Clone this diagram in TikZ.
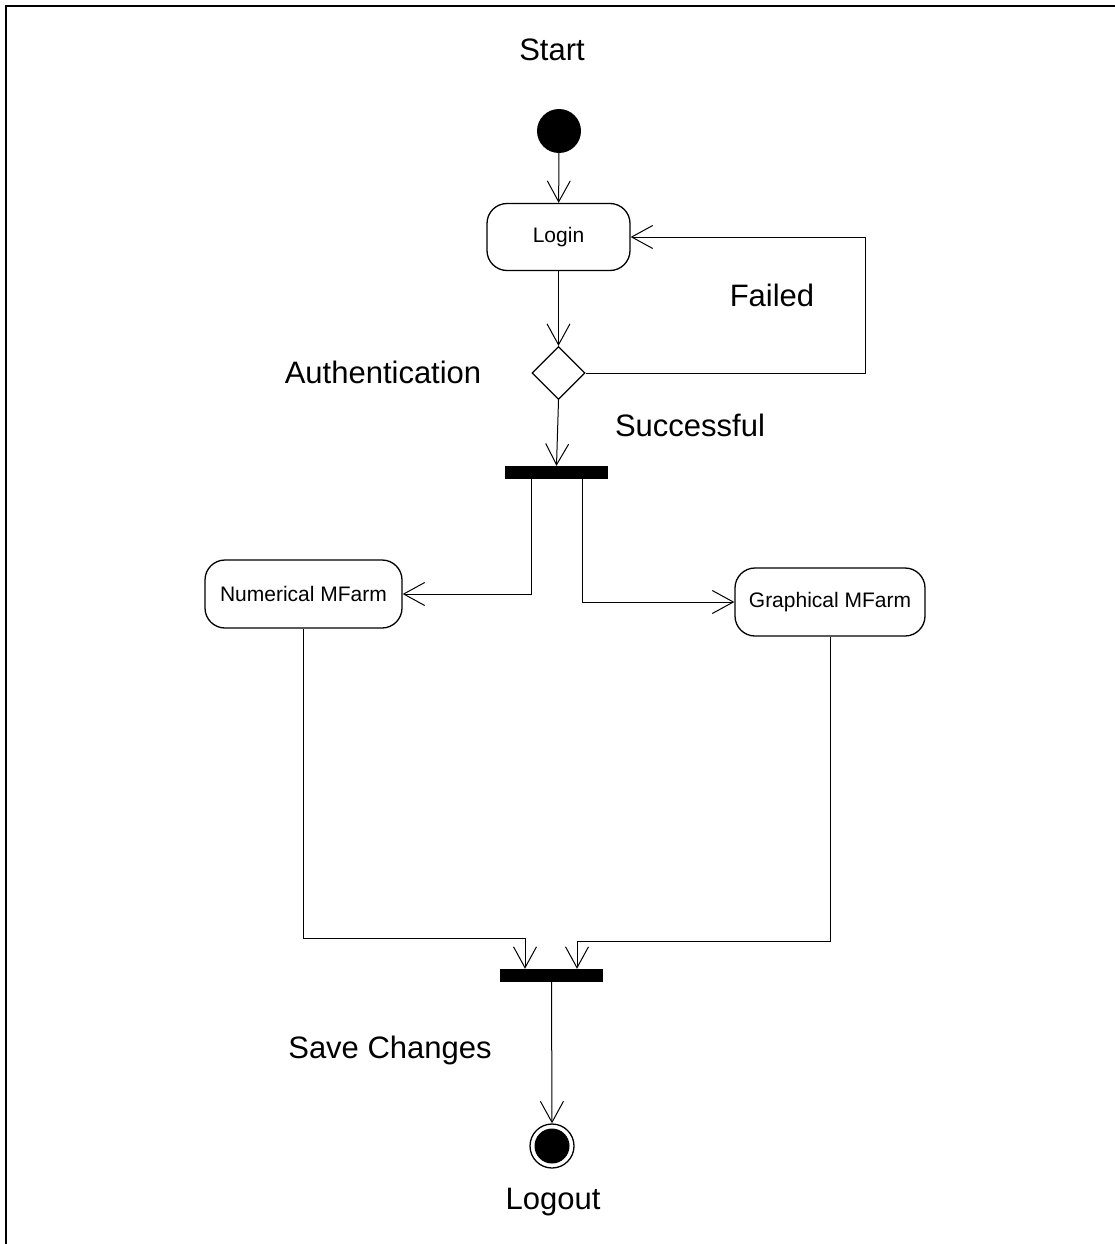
\documentclass[tikz,border=0pt]{standalone}
\usepackage{fontspec}
\setmainfont{Liberation Sans}
\usetikzlibrary{arrows.meta,shapes.geometric}
\begin{document}
\begin{tikzpicture}[x=1pt,y=-1pt,
  flow/.style={line width=1pt,-{Straight Barb[length=21pt,width=23pt,line width=1pt]}},
  activity/.style={draw,line width=1.3pt,rounded corners=20pt,inner sep=0pt,
    font=\fontsize{21}{25}\selectfont},
  bigtext/.style={inner sep=0pt,font=\fontsize{31}{36}\selectfont},
  bar/.style={fill=black,inner sep=0pt,minimum width=103pt,minimum height=13pt},
]
\useasboundingbox (0,0) rectangle (1115,1244);
\fill[white] (0,0) rectangle (1115,1244);
% frame
\draw[line width=2pt] (6,1244) -- (6,6) -- (1115,6);

% initial node
\node[bigtext] (startlbl) at (552,50) {Start};
\node[circle,fill=black,inner sep=0pt,minimum size=44pt] (init) at (559,131) {};

% login and decision
\node[activity,minimum width=143pt,minimum height=67pt] (login) at (558.5,237) {Login};
\node[diamond,draw,line width=1.3pt,inner sep=0pt,minimum width=53pt,minimum height=53pt,aspect=1] (auth) at (558.5,373) {};
\node[bigtext] (authlbl) at (383,372) {Authentication};
\node[bigtext] (failedlbl) at (772,295) {Failed};
\node[bigtext] (successlbl) at (690,425) {Successful};
\coordinate (loopcorner) at (865,373);

% fork
\node[bar] (fork) at (556.5,472.5) {};

% parallel activities
\node[activity,minimum width=197pt,minimum height=68pt] (num) at (303.5,594) {Numerical MFarm};
\node[activity,minimum width=190pt,minimum height=68pt] (gra) at (830,602) {Graphical MFarm};

% join
\node[bar] (join) at (551.5,975.5) {};
\node[bigtext] (savelbl) at (390,1050) {Save Changes};

% final node
\node[circle,draw,line width=1.3pt,inner sep=0pt,minimum size=44pt] (final) at (552,1146) {};
\fill (final.center) circle (17.5pt);
\node[bigtext,anchor=base] (logoutlbl) at (553,1209) {Logout};

% transitions
\draw[flow] (init) -- (login);
\draw[flow] (login) -- (auth.north);
\draw[flow] (auth.east) -- (loopcorner) |- (login.east);
\draw[flow] (auth.south) -- (fork.north);
\draw[flow] ([xshift=-25.5pt]fork.south) |- (num.east);
\draw[flow] ([xshift=25.5pt]fork.south) |- (gra.west);
\draw[flow] (num.south) -- (num.south |- 0,938) -| ([xshift=-26.5pt]join.north);
\draw[flow] (gra.south) -- (gra.south |- 0,941) -| ([xshift=25.5pt]join.north);
\draw[flow] (join.south) -- (final.north);
\end{tikzpicture}
\end{document}
